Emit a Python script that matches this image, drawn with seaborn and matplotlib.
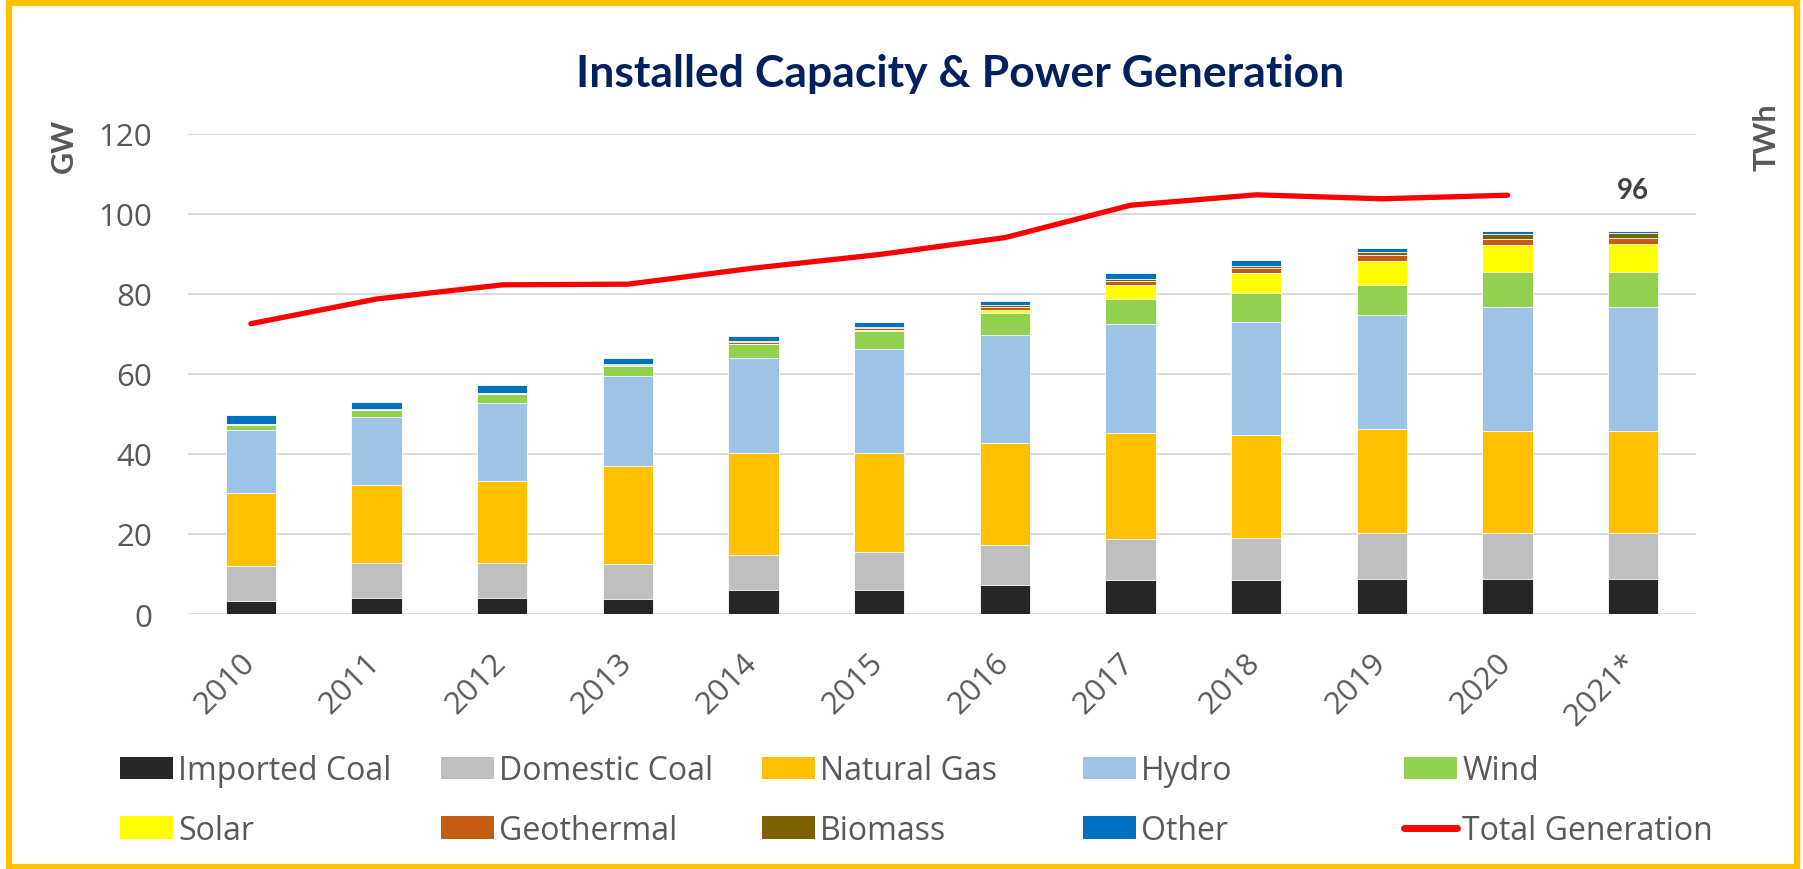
import numpy as np
import pandas as pd
import seaborn as sns
import matplotlib.pyplot as plt
from matplotlib.patches import Patch, Rectangle
from matplotlib.lines import Line2D
from matplotlib.transforms import ScaledTranslation

# Dades (GW per font, TWh generació total)
anys = ["2010", "2011", "2012", "2013", "2014", "2015", "2016", "2017", "2018", "2019", "2020", "2021*"]
imported_coal = [3.3, 4.0, 4.0, 3.8, 5.9, 5.9, 7.3, 8.6, 8.6, 8.8, 8.8, 8.8]
domestic_coal = [8.7, 8.7, 8.7, 8.7, 8.8, 9.5, 9.9, 10.1, 10.4, 11.4, 11.4, 11.4]
natural_gas = [18.2, 19.4, 20.4, 24.5, 25.5, 24.9, 25.6, 26.4, 25.7, 25.9, 25.6, 25.6]
hydro = [15.7, 17.2, 19.5, 22.4, 23.7, 26.0, 26.8, 27.3, 28.3, 28.5, 31.0, 31.0]
wind = [1.4, 1.6, 2.3, 2.6, 3.6, 4.3, 5.6, 6.4, 7.1, 7.5, 8.7, 8.7]
solar = [0.0, 0.0, 0.0, 0.0, 0.04, 0.3, 0.8, 3.4, 5.0, 6.0, 6.6, 6.8]
geothermal = [0.1, 0.1, 0.2, 0.3, 0.4, 0.6, 0.8, 1.1, 1.3, 1.5, 1.6, 1.6]
biomass = [0.1, 0.1, 0.2, 0.2, 0.3, 0.3, 0.4, 0.4, 0.6, 0.8, 1.3, 1.2]
other = [2.2, 1.9, 1.8, 1.4, 1.2, 1.2, 1.1, 1.4, 1.4, 0.9, 0.6, 0.6]
total_generation = [211.5, 229.5, 239.8, 240.3, 252.0, 261.9, 274.2, 297.8, 305.4, 302.5, 305.1]

fonts = ["Imported Coal", "Domestic Coal", "Natural Gas", "Hydro", "Wind",
         "Solar", "Geothermal", "Biomass", "Other"]
colors = ["#262626", "#BFBFBF", "#FFC000", "#9DC3E6", "#92D050",
          "#FFFF00", "#C55A11", "#7F6000", "#0070C0"]

df = pd.DataFrame({
    "Imported Coal": imported_coal, "Domestic Coal": domestic_coal,
    "Natural Gas": natural_gas, "Hydro": hydro, "Wind": wind, "Solar": solar,
    "Geothermal": geothermal, "Biomass": biomass, "Other": other,
}, index=anys)
cum = df.cumsum(axis=1)

sns.set_theme(style="white")
plt.rcParams["font.family"] = ["Open Sans", "DejaVu Sans"]
gris = "#595959"

fig = plt.figure(figsize=(18.03, 8.70), dpi=100)
ax = fig.add_axes([0.1043, 0.2931, 0.8364, 0.5522])

# Barres apilades: es dibuixa de dalt a baix amb els acumulats
for nom, col in reversed(list(zip(fonts, colors))):
    sns.barplot(x=anys, y=cum[nom].values, color=col, width=0.4, saturation=1,
                edgecolor="white", linewidth=0.6, ax=ax, zorder=3)

ax.set_xlim(-0.5, len(anys) - 0.5)
ax.set_ylim(0, 120)
ax.set_yticks(range(0, 121, 20))
ax.grid(axis="y", color="#D9D9D9", linewidth=1.3, zorder=0)
ax.set_axisbelow(True)
for s in ax.spines.values():
    s.set_visible(False)
ax.tick_params(axis="y", length=0, pad=26, labelsize=22.5, labelcolor=gris)
ax.tick_params(axis="x", length=0, pad=24, labelsize=22.5, labelcolor=gris)
despl = ScaledTranslation(0.10, 0, fig.dpi_scale_trans)
for lab in ax.get_xticklabels():
    lab.set_rotation(45)
    lab.set_ha("right")
    lab.set_transform(lab.get_transform() + despl)
ax.set_xlabel("")
ax.set_ylabel("")

# Etiqueta total 2021
tot = cum["Other"].values
ax.annotate(f"{tot[-1]:.0f}", xy=(len(anys) - 1, tot[-1]), xytext=(0, 24),
            textcoords="offset points", ha="center", va="baseline",
            fontsize=20, fontweight="bold", color="#404040", family="Lato")

# Línia generació total (eix secundari TWh)
ax2 = ax.twinx()
sns.lineplot(x=np.arange(len(total_generation)), y=total_generation, color="#FF0000",
             linewidth=3.8, ax=ax2, solid_capstyle="round", sort=False)
ax2.set_ylim(0, 350)
ax2.set_yticks([])
ax2.set_ylabel("")
for s in ax2.spines.values():
    s.set_visible(False)

# Títol i unitats
fig.text(0.5325, 0.90, "Installed Capacity & Power Generation", ha="center", va="baseline",
         fontsize=32, fontweight="bold", color="#002060", family="Lato")
fig.text(64 / 1803, 1 - 146 / 870, "GW", rotation=90, ha="center", va="center",
         fontsize=22, fontweight="bold", color=gris, family="Lato")
fig.text(1767 / 1803, 1 - 137 / 870, "TWh", rotation=90, ha="center", va="center",
         fontsize=22, fontweight="bold", color=gris, family="Lato")

# Llegenda en 5 columnes
handles = [Patch(facecolor=c, edgecolor="none", label=n) for n, c in zip(fonts, colors)]
handles.append(Line2D([], [], color="#FF0000", linewidth=5, solid_capstyle="round",
                      label="Total Generation"))
xs = [120, 441, 762, 1083, 1404]
for i, x in enumerate(xs):
    fig.legend(handles=[handles[i], handles[i + 5]], loc="upper left",
               bbox_to_anchor=(x / 1803, 1 - 755 / 870), frameon=False,
               borderpad=0, borderaxespad=0, handlelength=1.66, handleheight=0.7,
               handletextpad=0.16, labelspacing=0.84, fontsize=23, labelcolor=gris)

# Marc
fig.patches.append(Rectangle((9 / 1803, 2 / 870), 1788 / 1803, 864 / 870,
                             transform=fig.transFigure, fill=False,
                             edgecolor="#FFC000", linewidth=4.5))

fig.savefig("out.png", dpi=100)
